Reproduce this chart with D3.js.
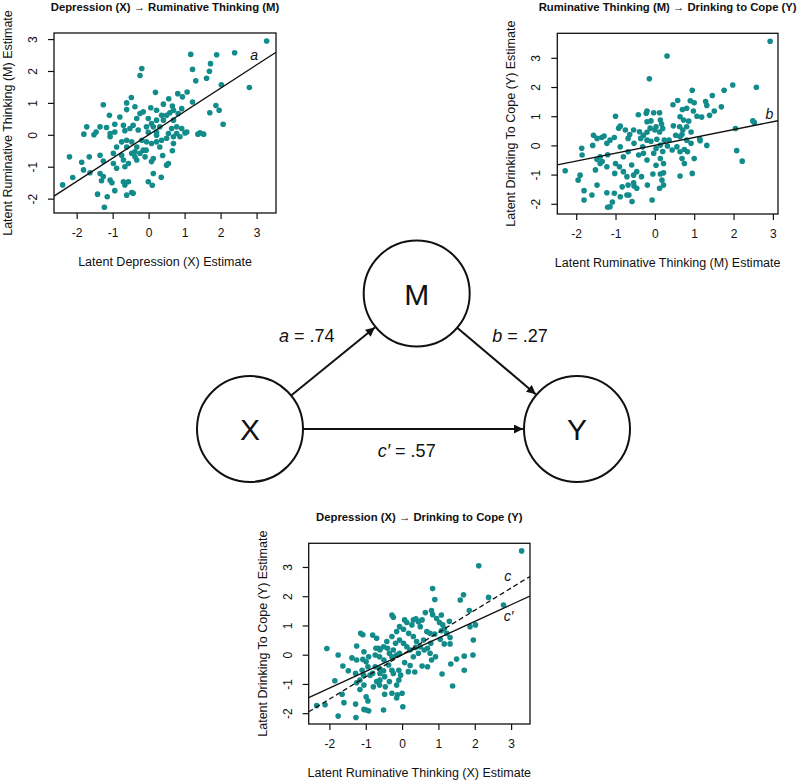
<!DOCTYPE html>
<html><head><meta charset="utf-8">
<script src="https://cdn.jsdelivr.net/npm/d3@7"></script>
<style>body{margin:0;background:#fff}svg{display:block}text{font-family:"Liberation Sans",Arial,sans-serif;fill:#111}</style>
</head><body>
<svg id="c" width="800" height="780"></svg>
<script>
// ---------- data ----------
const ticks = [-2, -1, 0, 1, 2, 3];
// Panel 1: Depression (X) vs Ruminative Thinking (M)
const pointsXM = [[3.28,2.94],[1.17,2.52],[2.39,2.57],[1.89,2.51],[1.72,2.23],[1.22,2.05],[1.69,1.99],[1.61,1.77],[1.31,1.69],[-0.19,2.08],[-0.24,1.86],[2.02,1.57],[2.80,1.48],[0.19,1.33],[-0.48,1.17],[0.81,1.29],[0.56,1.13],[1.07,1.34],[0.94,1.19],[1.22,1.03],[-1.26,0.94],[-0.61,1.0],[0.41,0.96],[0.06,0.85],[1.87,0.92],[1.96,0.77],[1.70,0.69],[2.07,0.33],[-1.09,0.61],[-0.61,0.79],[-0.38,0.88],[-0.24,0.67],[-0.33,0.51],[-0.15,0.72],[-1.72,0.25],[-1.80,0.02],[-1.52,0.0],[-1.17,0.23],[-0.94,0.33],[-0.94,0.09],[-1.07,-0.06],[-0.70,0.30],[-0.66,0.13],[-0.52,0.20],[-0.43,0.30],[-0.29,0.15],[-0.06,0.25],[-0.01,0.08],[0.13,0.25],[0.22,0.08],[0.31,0.25],[0.41,0.46],[0.50,0.61],[0.69,0.46],[0.78,0.25],[0.92,0.20],[1.01,0.06],[0.78,0.04],[0.69,-0.06],[0.50,-0.11],[0.36,-0.17],[0.22,-0.22],[0.31,-0.38],[0.08,-0.27],[-0.06,-0.22],[-0.19,-0.17],[-0.33,-0.38],[-0.15,-0.48],[-0.24,-0.58],[-0.38,-0.53],[-0.47,-0.58],[-0.61,-0.38],[-0.75,-0.22],[-0.89,-0.38],[-0.98,-0.58],[-0.75,-0.64],[-0.56,-0.90],[-0.70,-0.79],[-0.66,-1.0],[-0.89,-1.05],[-0.98,-0.90],[-1.26,-0.82],[-1.35,-0.64],[-1.65,-0.69],[-1.86,-0.86],[-2.20,-0.69],[-1.81,-1.10],[-1.63,-1.19],[-2.11,-1.34],[-2.39,-1.57],[-1.35,-1.21],[-1.26,-1.31],[-1.31,-1.44],[-1.07,-1.42],[-1.02,-1.50],[-0.94,-1.75],[-0.70,-1.47],[-0.66,-1.57],[-0.56,-1.47],[-0.61,-1.89],[-0.47,-1.81],[-0.43,-1.83],[-1.42,-1.86],[-1.15,-1.94],[-1.23,-2.27],[-0.01,-1.47],[0.10,-1.58],[0.13,-1.21],[0.35,-1.33],[0.50,-0.95],[0.55,-0.90],[0.66,-0.50],[0.69,-0.27],[0.39,-0.65],[0.87,-0.06],[1.06,0.09],[1.37,0.02],[1.43,0.06],[1.53,0.02],[-0.61,-0.17],[-0.47,-0.22],[-0.38,-0.69],[-0.33,-0.79],[-0.07,-0.48],[-0.10,-0.69],[0.13,-0.74],[0.08,-0.84],[0.22,-0.01],[0.55,0.04],[0.64,0.20],[0.82,0.67],[0.92,0.82],[0.22,0.77],[0.36,0.61],[0.59,0.69],[0.66,0.90],[0.69,0.77],[-0.01,0.51],[0.22,0.46],[0.08,0.35],[-0.80,0.56],[-1.07,0.04],[-1.35,0.25],[-1.46,0.09]];
// Panel 2: Ruminative Thinking (M) vs Drinking to Cope (Y)
const pointsMY = [[2.93,3.57],[0.31,3.06],[-0.14,2.28],[1.98,2.07],[2.58,1.99],[1.76,1.89],[0.95,1.89],[1.46,1.71],[0.58,1.54],[0.90,1.53],[1.0,1.46],[1.29,1.50],[1.32,1.37],[0.46,1.39],[1.69,1.32],[1.51,1.18],[1.39,1.03],[1.07,1.0],[1.19,0.97],[0.70,1.23],[0.81,1.27],[0.98,1.18],[-0.20,1.18],[-0.22,1.10],[0.12,1.12],[-0.03,1.12],[-0.42,1.05],[-1.0,1.0],[0.64,0.98],[0.73,0.87],[0.86,0.83],[2.49,0.84],[2.53,0.78],[2.05,0.58],[1.14,0.23],[1.15,0.16],[1.32,0.0],[2.08,-0.18],[2.22,-0.54],[0.92,0.07],[0.69,0.37],[0.92,0.46],[0.81,0.64],[0.63,0.64],[0.71,0.53],[0.47,0.67],[0.14,0.87],[0.17,0.73],[0.03,0.64],[0.20,0.58],[0.12,0.46],[0.0,0.53],[-0.12,0.59],[-0.2,0.45],[-0.29,0.35],[-0.39,0.47],[-0.54,0.53],[-0.75,0.53],[-0.92,0.59],[-0.88,0.66],[-0.64,0.37],[-0.68,0.24],[-0.53,0.07],[-0.36,0.24],[-0.20,0.18],[-0.10,0.14],[0.05,0.21],[0.24,0.18],[0.36,0.18],[0.32,-0.02],[0.14,0.01],[0.03,-0.11],[0.20,-0.21],[-0.03,-0.27],[0.14,-0.45],[0.22,-0.62],[0.03,-0.68],[-0.05,-0.98],[0.14,-0.98],[0.22,-0.94],[0.18,-1.19],[0.12,-1.47],[0.22,-1.36],[-0.07,-1.87],[-0.19,-1.36],[-0.34,-1.07],[-0.46,-0.90],[-0.54,-1.02],[-0.54,-1.28],[-0.53,-1.39],[-0.46,-1.47],[-0.58,-1.92],[-0.66,-1.70],[-0.68,-1.36],[-0.71,-1.70],[-0.88,-1.76],[-0.83,-1.42],[-0.71,-1.07],[-0.80,-0.90],[-0.90,-0.73],[-1.02,-0.96],[-1.0,-0.62],[-1.22,-0.73],[-1.08,-1.94],[-1.14,-2.10],[-1.20,-2.12],[-1.03,-1.64],[-1.22,-1.62],[-1.47,-1.36],[-1.60,-1.70],[-1.80,-1.87],[-1.80,-1.55],[-1.90,-1.02],[-1.95,-1.19],[-2.28,-0.87],[-1.86,-0.10],[-1.85,-0.33],[-1.58,0.0],[-1.47,0.24],[-1.35,0.27],[-1.29,0.32],[-1.22,0.07],[-1.20,-0.32],[-1.39,-0.39],[-1.47,-0.48],[-1.51,-0.84],[-1.39,-0.62],[-1.34,-0.55],[-1.03,0.27],[-1.14,0.18],[-0.88,-0.05],[-0.80,-0.39],[-0.68,-0.22],[-0.59,-0.67],[-0.41,-0.33],[-0.29,-0.27],[-0.20,-0.50],[-0.31,-0.05],[0.44,-0.16],[0.56,-0.05],[0.64,-0.22],[0.69,-0.45],[0.75,-0.62],[0.95,-0.96],[0.64,-1.05],[1.0,-0.45],[0.83,-0.22],[0.81,0.18],[0.75,-0.14],[0.53,0.35],[0.64,0.30],[-0.20,0.81],[-0.10,0.84],[-1.56,0.35]];
// Panel 3: Depression (X) vs Drinking to Cope (Y)
const pointsXY = [[3.29,3.55],[2.11,3.04],[0.84,2.26],[0.90,1.89],[1.69,2.05],[1.60,1.87],[2.38,1.96],[2.79,1.70],[1.85,1.51],[0.64,1.44],[0.81,1.51],[0.84,1.37],[1.08,1.36],[1.30,1.14],[-0.28,1.36],[-0.24,1.28],[0.07,1.19],[0.13,1.10],[0.31,1.19],[0.38,1.23],[0.45,1.13],[0.55,1.19],[0.27,1.02],[0.50,0.96],[0.95,1.24],[1.03,1.10],[1.12,1.02],[1.16,0.89],[1.08,0.82],[1.23,0.73],[1.32,0.59],[1.16,0.37],[1.32,0.37],[1.87,0.96],[2.02,1.02],[1.96,0.50],[1.95,-0.01],[1.71,-0.05],[1.50,-0.15],[1.34,-0.32],[1.71,-0.53],[1.10,-0.66],[1.39,-1.07],[0.77,0.73],[0.79,0.39],[0.59,0.50],[0.70,0.22],[0.77,0.05],[0.81,-0.18],[0.70,-0.41],[0.55,-0.39],[0.35,-0.59],[0.17,-0.58],[0.22,-0.37],[0.07,-0.27],[0.31,-0.07],[0.45,0.05],[0.50,0.27],[0.40,0.45],[0.31,0.62],[0.18,0.73],[0.04,0.87],[-0.07,0.96],[-0.15,0.79],[-0.07,0.50],[-0.18,0.39],[0.04,0.39],[0.13,0.27],[0.22,0.16],[-0.24,0.16],[-0.15,-0.01],[-0.35,0.05],[-0.28,0.62],[-0.42,0.45],[-0.51,0.27],[-0.40,0.22],[-0.65,0.22],[-0.74,-0.01],[-0.62,-0.07],[-0.50,-0.18],[-0.37,-0.35],[-0.28,-0.53],[-0.09,-0.53],[-0.04,-0.70],[-0.09,-0.87],[-0.15,-1.04],[0.0,-1.32],[-0.13,-1.37],[-0.15,-1.48],[0.02,-1.78],[-0.28,-1.32],[-0.35,-0.92],[-0.48,-0.75],[-0.61,-0.87],[-0.70,-0.92],[-0.62,-1.04],[-0.79,-1.10],[-0.88,-0.70],[-0.81,-0.64],[-0.94,-0.41],[-0.92,-0.07],[-0.99,-0.24],[-1.10,-0.53],[-1.06,-0.70],[-1.16,-0.87],[-1.05,-1.04],[-1.16,-1.19],[-1.25,-0.96],[-0.99,-1.44],[-0.94,-1.58],[-0.99,-1.89],[-1.05,-1.87],[-0.92,-1.92],[-0.51,-1.89],[-1.28,-1.69],[-1.27,-2.15],[-1.76,-2.10],[-1.85,-0.89],[-2.07,0.21],[-1.76,-0.01],[-1.63,-0.39],[-1.65,-1.35],[-1.60,-1.64],[-2.12,-1.71],[-2.35,-1.74],[-1.48,-0.55],[-1.38,-0.11],[-1.28,-0.64],[-1.25,0.30],[-1.14,0.73],[-1.08,0.68],[-0.81,0.67],[-0.70,0.56],[-0.72,0.22],[-0.61,0.16],[-1.05,0.10],[-1.08,-0.16],[-1.25,-0.18],[-0.74,-0.41],[-0.62,-0.47],[-0.51,-0.55],[-0.61,-0.64],[-0.46,-1.10],[-0.48,-1.35],[-0.24,-0.64],[0.37,0.25],[0.61,0.16],[0.92,-0.07],[0.90,0.71],[1.05,0.53],[0.68,0.79],[-0.28,-0.07],[-0.07,0.05]];
// regression slopes (intercept ~0)
const slopeA = 0.73, slopeB = 0.27, slopeC = 0.76, slopeCp = 0.57;
const titles = ["Depression (X) \u2192 Ruminative Thinking (M)", "Ruminative Thinking (M) \u2192 Drinking to Cope (Y)", "Depression (X) \u2192 Drinking to Cope (Y)"];
const xLabels = ["Latent Depression (X) Estimate", "Latent Ruminative Thinking (M) Estimate", "Latent Ruminative Thinking (X) Estimate"];
const yLabels = ["Latent Ruminative Thinking (M) Estimate", "Latent Drinking To Cope (Y) Estimate", "Latent Drinking To Cope (Y) Estimate"];
const pathLabels = ["a = .74", "b = .27", "c\u2032 = .57"];

// ---------- drawing ----------
const svg = d3.select("#c");
const teal = "#128b8b";
const FONT = "Liberation Sans, Arial, sans-serif";

const panels = [
  {box:[54,276,33,213], xd:[-2.63,3.54], yd:[-2.45,3.19], pts:pointsXM, lines:[{s:slopeA,dash:null}], lbl:[{t:"a",x:2.93,y:2.5}]},
  {box:[557.3,778,33.3,214], xd:[-2.48,3.13], yd:[-2.35,3.84], pts:pointsMY, lines:[{s:slopeB,dash:null}], lbl:[{t:"b",x:2.91,y:1.07}]},
  {box:[308.7,530,543.3,724], xd:[-2.57,3.52], yd:[-2.37,3.81], pts:pointsXY, lines:[{s:slopeC,dash:"5,3"},{s:slopeCp,dash:null}], lbl:[{t:"c",x:2.91,y:2.68},{t:"c\u2032",x:2.93,y:1.33}]}
];

panels.forEach((p,i)=>{
  const [l,r,t,b] = p.box;
  const x = d3.scaleLinear().domain(p.xd).range([l,r]);
  const y = d3.scaleLinear().domain(p.yd).range([b,t]);
  const g = svg.append("g");
  const cid = "clip"+i;
  svg.append("clipPath").attr("id",cid).append("rect").attr("x",l).attr("y",t).attr("width",r-l).attr("height",b-t);
  g.append("g").selectAll("circle").data(p.pts).join("circle")
    .attr("cx",d=>x(d[0])).attr("cy",d=>y(d[1])).attr("r",2.8).attr("fill",teal);
  p.lines.forEach(ln=>{
    g.append("line").attr("clip-path",`url(#${cid})`)
      .attr("x1",x(p.xd[0])).attr("y1",y(ln.s*p.xd[0]))
      .attr("x2",x(p.xd[1])).attr("y2",y(ln.s*p.xd[1]))
      .attr("stroke","#111").attr("stroke-width",1.3)
      .attr("stroke-dasharray",ln.dash);
  });
  p.lbl.forEach(lb=>{
    g.append("text").attr("x",x(lb.x)).attr("y",y(lb.y)).attr("text-anchor","middle")
      .attr("dominant-baseline","central").attr("font-style","italic").attr("font-size",14).text(lb.t);
  });
  g.append("rect").attr("x",l).attr("y",t).attr("width",r-l).attr("height",b-t)
    .attr("fill","none").attr("stroke","#111").attr("stroke-width",1.3);
  const xa = g.append("g").attr("transform",`translate(0,${b})`)
    .call(d3.axisBottom(x).tickValues(ticks).tickSize(6).tickPadding(9).tickFormat(d=>String(d)));
  xa.select(".domain").remove();
  xa.selectAll("line").attr("stroke","#111").attr("stroke-width",1.2);
  xa.selectAll("text").attr("font-size",12).attr("fill","#111").attr("font-family",FONT);
  const ya = g.append("g").attr("transform",`translate(${l},0)`)
    .call(d3.axisLeft(y).tickValues(ticks).tickSize(6).tickFormat(d=>String(d)));
  ya.select(".domain").remove();
  ya.selectAll("line").attr("stroke","#111").attr("stroke-width",1.2);
  ya.selectAll("text").attr("font-size",12).attr("fill","#111").attr("font-family",FONT)
    .attr("x",null).attr("dy",null).attr("text-anchor","middle").attr("dominant-baseline","central")
    .attr("transform","translate(-21,0) rotate(-90)");
  const cx = (l+r)/2, cy = (t+b)/2;
  g.append("text").attr("x",cx).attr("y",t-26).attr("text-anchor","middle").attr("dominant-baseline","central")
    .attr("font-weight","bold").attr("font-size",11.3).text(titles[i]);
  g.append("text").attr("x",cx).attr("y",b+49).attr("text-anchor","middle").attr("dominant-baseline","central")
    .attr("font-size",12.5).text(xLabels[i]);
  g.append("text").attr("transform",`translate(${l-46},${cy}) rotate(-90)`).attr("text-anchor","middle")
    .attr("dominant-baseline","central").attr("font-size",12.5).text(yLabels[i]);
});

// ---------- path diagram ----------
const R = 53;
const nodes = {M:{x:416.7,y:293.5}, X:{x:250,y:429}, Y:{x:577,y:429}};
const defs = svg.append("defs");
defs.append("marker").attr("id","arr").attr("viewBox","0 0 10 10").attr("refX",10).attr("refY",5)
  .attr("markerWidth",11).attr("markerHeight",9).attr("markerUnits","userSpaceOnUse").attr("orient","auto")
  .append("path").attr("d","M0,0L10,5L0,10Z").attr("fill","#111");
const edges = [["X","M"],["M","Y"],["X","Y"]];
edges.forEach(([a,b])=>{
  const A=nodes[a], B=nodes[b];
  const dx=B.x-A.x, dy=B.y-A.y, L=Math.hypot(dx,dy), ux=dx/L, uy=dy/L;
  svg.append("line").attr("x1",A.x+ux*R).attr("y1",A.y+uy*R).attr("x2",B.x-ux*(R+1)).attr("y2",B.y-uy*(R+1))
    .attr("stroke","#111").attr("stroke-width",2).attr("marker-end","url(#arr)");
});
Object.entries(nodes).forEach(([k,n])=>{
  svg.append("circle").attr("cx",n.x).attr("cy",n.y).attr("r",R).attr("fill","none").attr("stroke","#111").attr("stroke-width",2);
  svg.append("text").attr("x",n.x).attr("y",n.y+11).attr("text-anchor","middle").attr("font-size",30).text(k);
});
const labelPos = [[306.7,341.5],[520,341.5],[406.7,456.5]];
pathLabels.forEach((s,i)=>{
  const parts = s.split(" = ");
  const t = svg.append("text").attr("x",labelPos[i][0]).attr("y",labelPos[i][1]).attr("text-anchor","middle").attr("font-size",18);
  t.append("tspan").attr("font-style","italic").text(parts[0]);
  t.append("tspan").text(" = "+parts[1]);
});
</script>
</body></html>
